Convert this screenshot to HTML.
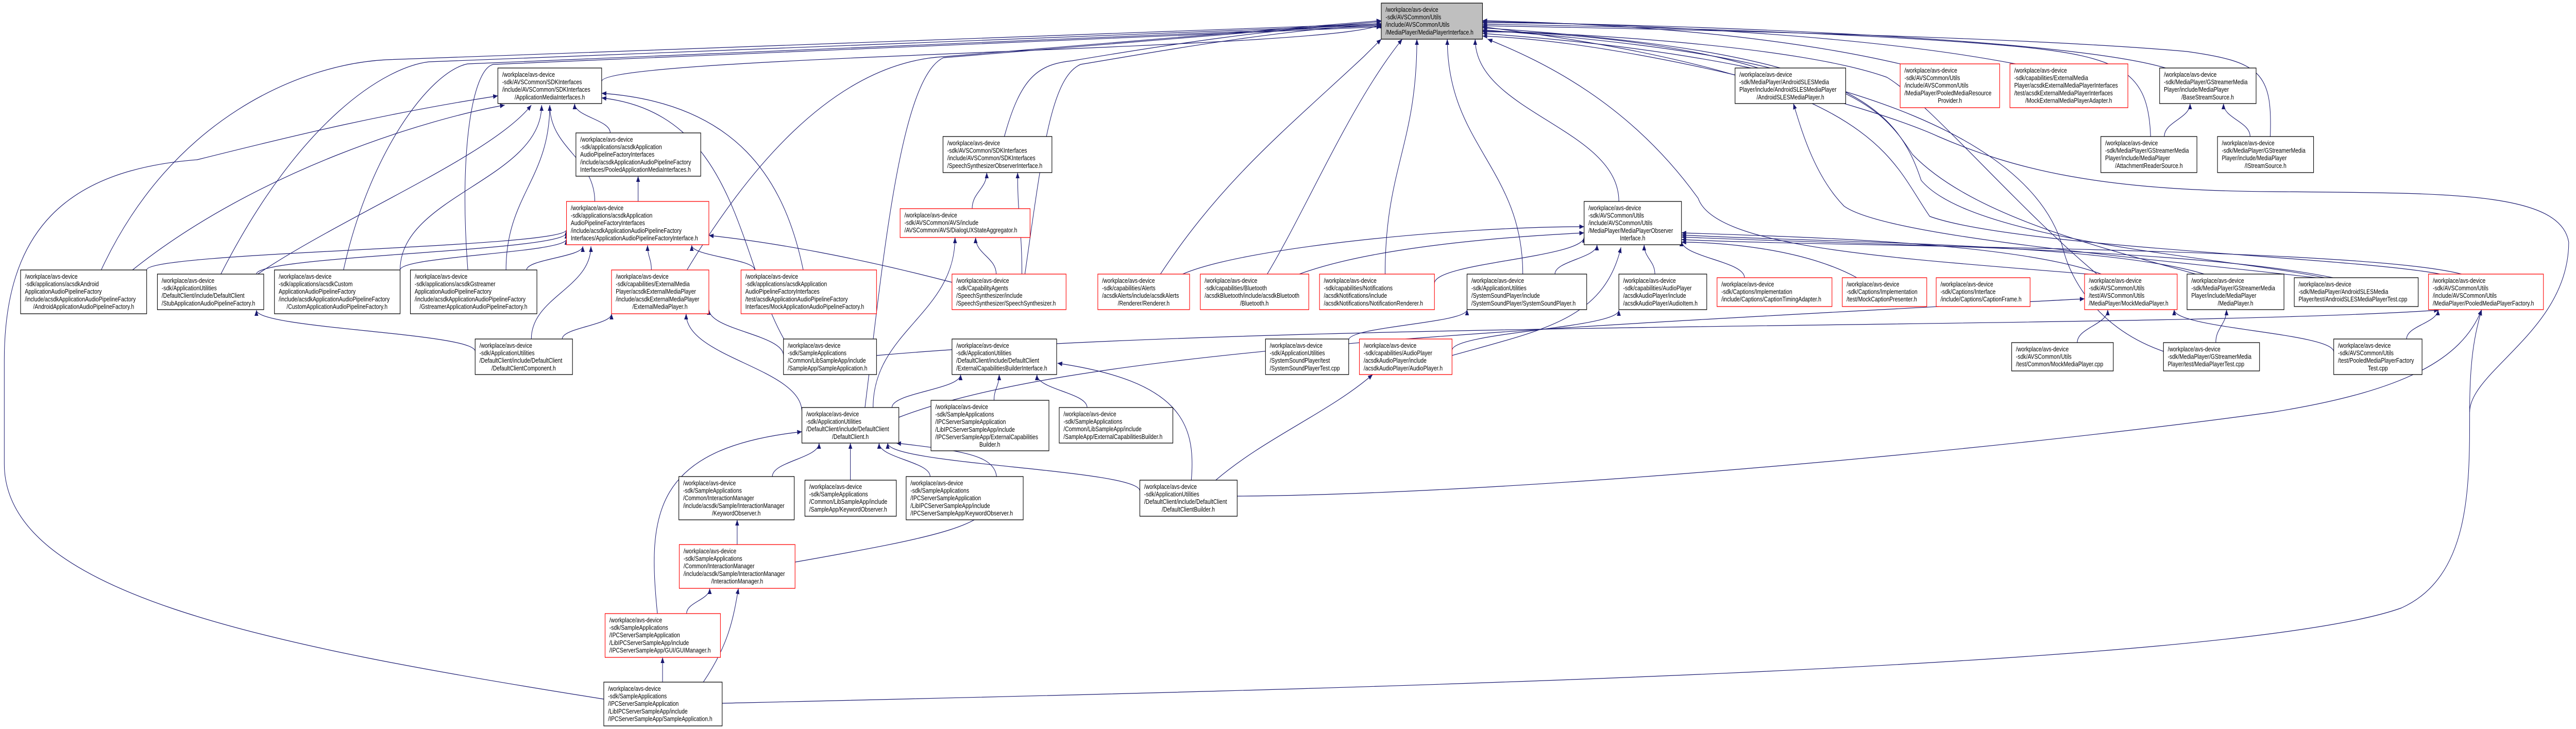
<!DOCTYPE html>
<html><head><meta charset="utf-8"><style>
html,body{margin:0;padding:0;background:#fff;width:100%;height:100%;overflow:hidden;}
svg{display:block;position:absolute;left:0;top:0;width:100vw;height:100vh;}
text{font-family:"Liberation Sans",Arial,sans-serif;font-size:12.5px;fill:#000;}
.n{fill:#fff;stroke:#000;stroke-width:1.3;}
.r{fill:#fff;stroke:#ff0000;stroke-width:1.3;}
.g{fill:#bfbfbf;stroke:#000;stroke-width:1.3;}
.e{fill:none;stroke:#191970;stroke-width:1.2;}
.c{text-anchor:middle;}
</style></head><body>
<svg id="s" viewBox="0 0 6007 1415" preserveAspectRatio="none" xmlns="http://www.w3.org/2000/svg">
<defs><marker id="a" markerUnits="userSpaceOnUse" markerWidth="12" markerHeight="9" refX="11" refY="4.5" orient="auto"><path d="M0,0 L11,4.5 L0,9 z" fill="#191970"/></marker></defs>
<g id="edges"></g>
<g id="nodes">
<rect class="g" x="3221" y="6" width="236" height="70"/>
<text x="3231" y="23">/workplace/avs-device</text><text x="3231" y="37.6">-sdk/AVSCommon/Utils</text><text x="3231" y="52.2">/include/AVSCommon/Utils</text><text x="3231" y="66.8">/MediaPlayer/MediaPlayerInterface.h</text>

<rect class="n" x="1161" y="132" width="242" height="69"/>
<text x="1171" y="149">/workplace/avs-device</text><text x="1171" y="163.6">-sdk/AVSCommon/SDKInterfaces</text><text x="1171" y="178.2">/include/AVSCommon/SDKInterfaces</text><text class="c" x="1282" y="192.8">/ApplicationMediaInterfaces.h</text>

<rect class="n" x="1343" y="258" width="291" height="84"/>
<text x="1353" y="275">/workplace/avs-device</text><text x="1353" y="289.6">-sdk/applications/acsdkApplication</text><text x="1353" y="304.2">AudioPipelineFactoryInterfaces</text><text x="1353" y="318.8">/include/acsdkApplicationAudioPipelineFactory</text><text x="1353" y="333.4">Interfaces/PooledApplicationMediaInterfaces.h</text>

<rect class="r" x="1321" y="391" width="332" height="84"/>
<text x="1331" y="408">/workplace/avs-device</text><text x="1331" y="422.6">-sdk/applications/acsdkApplication</text><text x="1331" y="437.2">AudioPipelineFactoryInterfaces</text><text x="1331" y="451.8">/include/acsdkApplicationAudioPipelineFactory</text><text x="1331" y="466.4">Interfaces/ApplicationAudioPipelineFactoryInterface.h</text>

<rect class="n" x="48" y="524" width="294" height="85"/>
<text x="58" y="541">/workplace/avs-device</text><text x="58" y="555.6">-sdk/applications/acsdkAndroid</text><text x="58" y="570.2">ApplicationAudioPipelineFactory</text><text x="58" y="584.8">/include/acsdkApplicationAudioPipelineFactory</text><text class="c" x="195" y="599.4">/AndroidApplicationAudioPipelineFactory.h</text>

<rect class="n" x="367" y="532" width="248" height="69"/>
<text x="377" y="549">/workplace/avs-device</text><text x="377" y="563.6">-sdk/ApplicationUtilities</text><text x="377" y="578.2">/DefaultClient/include/DefaultClient</text><text x="377" y="592.8">/StubApplicationAudioPipelineFactory.h</text>

<rect class="n" x="640" y="524" width="293" height="85"/>
<text x="650" y="541">/workplace/avs-device</text><text x="650" y="555.6">-sdk/applications/acsdkCustom</text><text x="650" y="570.2">ApplicationAudioPipelineFactory</text><text x="650" y="584.8">/include/acsdkApplicationAudioPipelineFactory</text><text class="c" x="786" y="599.4">/CustomApplicationAudioPipelineFactory.h</text>

<rect class="n" x="957" y="524" width="295" height="85"/>
<text x="967" y="541">/workplace/avs-device</text><text x="967" y="555.6">-sdk/applications/acsdkGstreamer</text><text x="967" y="570.2">ApplicationAudioPipelineFactory</text><text x="967" y="584.8">/include/acsdkApplicationAudioPipelineFactory</text><text class="c" x="1104" y="599.4">/GstreamerApplicationAudioPipelineFactory.h</text>

<rect class="n" x="1108" y="658" width="227" height="69"/>
<text x="1118" y="675">/workplace/avs-device</text><text x="1118" y="689.6">-sdk/ApplicationUtilities</text><text x="1118" y="704.2">/DefaultClient/include/DefaultClient</text><text class="c" x="1221" y="718.8">/DefaultClientComponent.h</text>

<rect class="r" x="1426" y="524" width="227" height="85"/>
<text x="1436" y="541">/workplace/avs-device</text><text x="1436" y="555.6">-sdk/capabilities/ExternalMedia</text><text x="1436" y="570.2">Player/acsdkExternalMediaPlayer</text><text x="1436" y="584.8">/include/acsdkExternalMediaPlayer</text><text class="c" x="1539" y="599.4">/ExternalMediaPlayer.h</text>

<rect class="n" x="2199" y="265" width="254" height="70"/>
<text x="2209" y="282">/workplace/avs-device</text><text x="2209" y="296.6">-sdk/AVSCommon/SDKInterfaces</text><text x="2209" y="311.2">/include/AVSCommon/SDKInterfaces</text><text x="2209" y="325.8">/SpeechSynthesizerObserverInterface.h</text>

<rect class="r" x="2099" y="405" width="303" height="56"/>
<text x="2109" y="422">/workplace/avs-device</text><text x="2109" y="436.6">-sdk/AVSCommon/AVS/include</text><text x="2109" y="451.2">/AVSCommon/AVS/DialogUXStateAggregator.h</text>

<rect class="r" x="1728" y="524" width="316" height="85"/>
<text x="1738" y="541">/workplace/avs-device</text><text x="1738" y="555.6">-sdk/applications/acsdkApplication</text><text x="1738" y="570.2">AudioPipelineFactoryInterfaces</text><text x="1738" y="584.8">/test/acsdkApplicationAudioPipelineFactory</text><text x="1738" y="599.4">Interfaces/MockApplicationAudioPipelineFactory.h</text>

<rect class="r" x="2220" y="532" width="266" height="69"/>
<text x="2230" y="549">/workplace/avs-device</text><text x="2230" y="563.6">-sdk/CapabilityAgents</text><text x="2230" y="578.2">/SpeechSynthesizer/include</text><text x="2230" y="592.8">/SpeechSynthesizer/SpeechSynthesizer.h</text>

<rect class="r" x="2560" y="532" width="214" height="69"/>
<text x="2570" y="549">/workplace/avs-device</text><text x="2570" y="563.6">-sdk/capabilities/Alerts</text><text x="2570" y="578.2">/acsdkAlerts/include/acsdkAlerts</text><text class="c" x="2667" y="592.8">/Renderer/Renderer.h</text>

<rect class="r" x="2799" y="532" width="253" height="69"/>
<text x="2809" y="549">/workplace/avs-device</text><text x="2809" y="563.6">-sdk/capabilities/Bluetooth</text><text x="2809" y="578.2">/acsdkBluetooth/include/acsdkBluetooth</text><text class="c" x="2925" y="592.8">/Bluetooth.h</text>

<rect class="n" x="1827" y="658" width="217" height="69"/>
<text x="1837" y="675">/workplace/avs-device</text><text x="1837" y="689.6">-sdk/SampleApplications</text><text x="1837" y="704.2">/Common/LibSampleApp/include</text><text x="1837" y="718.8">/SampleApp/SampleApplication.h</text>

<rect class="n" x="2220" y="658" width="244" height="69"/>
<text x="2230" y="675">/workplace/avs-device</text><text x="2230" y="689.6">-sdk/ApplicationUtilities</text><text x="2230" y="704.2">/DefaultClient/include/DefaultClient</text><text x="2230" y="718.8">/ExternalCapabilitiesBuilderInterface.h</text>

<rect class="n" x="2951" y="658" width="194" height="69"/>
<text x="2961" y="675">/workplace/avs-device</text><text x="2961" y="689.6">-sdk/ApplicationUtilities</text><text x="2961" y="704.2">/SystemSoundPlayer/test</text><text x="2961" y="718.8">/SystemSoundPlayerTest.cpp</text>

<rect class="n" x="4046" y="132" width="258" height="69"/>
<text x="4056" y="149">/workplace/avs-device</text><text x="4056" y="163.6">-sdk/MediaPlayer/AndroidSLESMedia</text><text x="4056" y="178.2">Player/include/AndroidSLESMediaPlayer</text><text class="c" x="4175" y="192.8">/AndroidSLESMediaPlayer.h</text>

<rect class="r" x="4431" y="124" width="232" height="85"/>
<text x="4441" y="141">/workplace/avs-device</text><text x="4441" y="155.6">-sdk/AVSCommon/Utils</text><text x="4441" y="170.2">/include/AVSCommon/Utils</text><text x="4441" y="184.8">/MediaPlayer/PooledMediaResource</text><text class="c" x="4547" y="199.4">Provider.h</text>

<rect class="n" x="3694" y="391" width="227" height="84"/>
<text x="3704" y="408">/workplace/avs-device</text><text x="3704" y="422.6">-sdk/AVSCommon/Utils</text><text x="3704" y="437.2">/include/AVSCommon/Utils</text><text x="3704" y="451.8">/MediaPlayer/MediaPlayerObserver</text><text class="c" x="3807" y="466.4">Interface.h</text>

<rect class="r" x="3077" y="532" width="268" height="69"/>
<text x="3087" y="549">/workplace/avs-device</text><text x="3087" y="563.6">-sdk/capabilities/Notifications</text><text x="3087" y="578.2">/acsdkNotifications/include</text><text x="3087" y="592.8">/acsdkNotifications/NotificationRenderer.h</text>

<rect class="n" x="3421" y="532" width="279" height="69"/>
<text x="3431" y="549">/workplace/avs-device</text><text x="3431" y="563.6">-sdk/ApplicationUtilities</text><text x="3431" y="578.2">/SystemSoundPlayer/include</text><text x="3431" y="592.8">/SystemSoundPlayer/SystemSoundPlayer.h</text>

<rect class="n" x="3775" y="532" width="205" height="69"/>
<text x="3785" y="549">/workplace/avs-device</text><text x="3785" y="563.6">-sdk/capabilities/AudioPlayer</text><text x="3785" y="578.2">/acsdkAudioPlayer/include</text><text x="3785" y="592.8">/acsdkAudioPlayer/AudioItem.h</text>

<rect class="r" x="4004" y="539" width="268" height="56"/>
<text x="4014" y="556">/workplace/avs-device</text><text x="4014" y="570.6">-sdk/Captions/Implementation</text><text x="4014" y="585.2">/include/Captions/CaptionTimingAdapter.h</text>

<rect class="r" x="4296" y="539" width="197" height="56"/>
<text x="4306" y="556">/workplace/avs-device</text><text x="4306" y="570.6">-sdk/Captions/Implementation</text><text x="4306" y="585.2">/test/MockCaptionPresenter.h</text>

<rect class="r" x="3170" y="658" width="216" height="69"/>
<text x="3180" y="675">/workplace/avs-device</text><text x="3180" y="689.6">-sdk/capabilities/AudioPlayer</text><text x="3180" y="704.2">/acsdkAudioPlayer/include</text><text x="3180" y="718.8">/acsdkAudioPlayer/AudioPlayer.h</text>

<rect class="r" x="4687" y="124" width="275" height="85"/>
<text x="4697" y="141">/workplace/avs-device</text><text x="4697" y="155.6">-sdk/capabilities/ExternalMedia</text><text x="4697" y="170.2">Player/acsdkExternalMediaPlayerInterfaces</text><text x="4697" y="184.8">/test/acsdkExternalMediaPlayerInterfaces</text><text class="c" x="4824" y="199.4">/MockExternalMediaPlayerAdapter.h</text>

<rect class="n" x="5036" y="132" width="225" height="69"/>
<text x="5046" y="149">/workplace/avs-device</text><text x="5046" y="163.6">-sdk/MediaPlayer/GStreamerMedia</text><text x="5046" y="178.2">Player/include/MediaPlayer</text><text class="c" x="5148" y="192.8">/BaseStreamSource.h</text>

<rect class="n" x="4899" y="265" width="224" height="70"/>
<text x="4909" y="282">/workplace/avs-device</text><text x="4909" y="296.6">-sdk/MediaPlayer/GStreamerMedia</text><text x="4909" y="311.2">Player/include/MediaPlayer</text><text class="c" x="5011" y="325.8">/AttachmentReaderSource.h</text>

<rect class="n" x="5171" y="265" width="224" height="70"/>
<text x="5181" y="282">/workplace/avs-device</text><text x="5181" y="296.6">-sdk/MediaPlayer/GStreamerMedia</text><text x="5181" y="311.2">Player/include/MediaPlayer</text><text class="c" x="5283" y="325.8">/IStreamSource.h</text>

<rect class="r" x="4515" y="539" width="219" height="56"/>
<text x="4525" y="556">/workplace/avs-device</text><text x="4525" y="570.6">-sdk/Captions/Interface</text><text x="4525" y="585.2">/include/Captions/CaptionFrame.h</text>

<rect class="r" x="4861" y="532" width="216" height="69"/>
<text x="4871" y="549">/workplace/avs-device</text><text x="4871" y="563.6">-sdk/AVSCommon/Utils</text><text x="4871" y="578.2">/test/AVSCommon/Utils</text><text x="4871" y="592.8">/MediaPlayer/MockMediaPlayer.h</text>

<rect class="n" x="5100" y="532" width="226" height="69"/>
<text x="5110" y="549">/workplace/avs-device</text><text x="5110" y="563.6">-sdk/MediaPlayer/GStreamerMedia</text><text x="5110" y="578.2">Player/include/MediaPlayer</text><text class="c" x="5213" y="592.8">/MediaPlayer.h</text>

<rect class="n" x="5350" y="539" width="289" height="56"/>
<text x="5360" y="556">/workplace/avs-device</text><text x="5360" y="570.6">-sdk/MediaPlayer/AndroidSLESMedia</text><text x="5360" y="585.2">Player/test/AndroidSLESMediaPlayerTest.cpp</text>

<rect class="r" x="5663" y="532" width="268" height="69"/>
<text x="5673" y="549">/workplace/avs-device</text><text x="5673" y="563.6">-sdk/AVSCommon/Utils</text><text x="5673" y="578.2">/include/AVSCommon/Utils</text><text x="5673" y="592.8">/MediaPlayer/PooledMediaPlayerFactory.h</text>

<rect class="n" x="4691" y="665" width="237" height="55"/>
<text x="4701" y="682">/workplace/avs-device</text><text x="4701" y="696.6">-sdk/AVSCommon/Utils</text><text x="4701" y="711.2">/test/Common/MockMediaPlayer.cpp</text>

<rect class="n" x="5045" y="665" width="224" height="55"/>
<text x="5055" y="682">/workplace/avs-device</text><text x="5055" y="696.6">-sdk/MediaPlayer/GStreamerMedia</text><text x="5055" y="711.2">Player/test/MediaPlayerTest.cpp</text>

<rect class="n" x="5442" y="658" width="206" height="69"/>
<text x="5452" y="675">/workplace/avs-device</text><text x="5452" y="689.6">-sdk/AVSCommon/Utils</text><text x="5452" y="704.2">/test/PooledMediaPlayerFactory</text><text class="c" x="5545" y="718.8">Test.cpp</text>

<rect class="n" x="1870" y="791" width="226" height="69"/>
<text x="1880" y="808">/workplace/avs-device</text><text x="1880" y="822.6">-sdk/ApplicationUtilities</text><text x="1880" y="837.2">/DefaultClient/include/DefaultClient</text><text class="c" x="1983" y="851.8">/DefaultClient.h</text>

<rect class="n" x="2171" y="777" width="275" height="98"/>
<text x="2181" y="794">/workplace/avs-device</text><text x="2181" y="808.6">-sdk/SampleApplications</text><text x="2181" y="823.2">/IPCServerSampleApplication</text><text x="2181" y="837.8">/LibIPCServerSampleApp/include</text><text x="2181" y="852.4">/IPCServerSampleApp/ExternalCapabilities</text><text class="c" x="2308" y="867">Builder.h</text>

<rect class="n" x="2470" y="791" width="265" height="69"/>
<text x="2480" y="808">/workplace/avs-device</text><text x="2480" y="822.6">-sdk/SampleApplications</text><text x="2480" y="837.2">/Common/LibSampleApp/include</text><text x="2480" y="851.8">/SampleApp/ExternalCapabilitiesBuilder.h</text>

<rect class="n" x="1583" y="925" width="269" height="84"/>
<text x="1593" y="942">/workplace/avs-device</text><text x="1593" y="956.6">-sdk/SampleApplications</text><text x="1593" y="971.2">/Common/InteractionManager</text><text x="1593" y="985.8">/include/acsdk/Sample/InteractionManager</text><text class="c" x="1717" y="1000.4">/KeywordObserver.h</text>

<rect class="n" x="1877" y="932" width="213" height="70"/>
<text x="1887" y="949">/workplace/avs-device</text><text x="1887" y="963.6">-sdk/SampleApplications</text><text x="1887" y="978.2">/Common/LibSampleApp/include</text><text x="1887" y="992.8">/SampleApp/KeywordObserver.h</text>

<rect class="n" x="2113" y="925" width="273" height="84"/>
<text x="2123" y="942">/workplace/avs-device</text><text x="2123" y="956.6">-sdk/SampleApplications</text><text x="2123" y="971.2">/IPCServerSampleApplication</text><text x="2123" y="985.8">/LibIPCServerSampleApp/include</text><text x="2123" y="1000.4">/IPCServerSampleApp/KeywordObserver.h</text>

<rect class="n" x="2658" y="932" width="227" height="70"/>
<text x="2668" y="949">/workplace/avs-device</text><text x="2668" y="963.6">-sdk/ApplicationUtilities</text><text x="2668" y="978.2">/DefaultClient/include/DefaultClient</text><text class="c" x="2771" y="992.8">/DefaultClientBuilder.h</text>

<rect class="r" x="1584" y="1057" width="270" height="85"/>
<text x="1594" y="1074">/workplace/avs-device</text><text x="1594" y="1088.6">-sdk/SampleApplications</text><text x="1594" y="1103.2">/Common/InteractionManager</text><text x="1594" y="1117.8">/include/acsdk/Sample/InteractionManager</text><text class="c" x="1719" y="1132.4">/InteractionManager.h</text>

<rect class="r" x="1411" y="1191" width="269" height="85"/>
<text x="1421" y="1208">/workplace/avs-device</text><text x="1421" y="1222.6">-sdk/SampleApplications</text><text x="1421" y="1237.2">/IPCServerSampleApplication</text><text x="1421" y="1251.8">/LibIPCServerSampleApp/include</text><text x="1421" y="1266.4">/IPCServerSampleApp/GUI/GUIManager.h</text>

<rect class="n" x="1408" y="1324" width="276" height="85"/>
<text x="1418" y="1341">/workplace/avs-device</text><text x="1418" y="1355.6">-sdk/SampleApplications</text><text x="1418" y="1370.2">/IPCServerSampleApplication</text><text x="1418" y="1384.8">/LibIPCServerSampleApp/include</text><text x="1418" y="1399.4">/IPCServerSampleApp/SampleApplication.h</text>
</g>
</svg>
<script>
var E=[
[1403,158,3221,44],
"M236,524 C400,230 700,125 900,116 L3221,46",
"M309,524 C600,330 1000,230 1177,204",
"M515,532 C700,230 900,130 1000,120 L3221,48",
"M601,532 C800,420 1150,300 1239,204",
"M801,524 C860,300 1000,140 1090,124 L3221,50",
[933,524,1263,204],[1180,524,1282,204],
"M1091,524 C1070,300 1100,135 1150,125 L3221,52",
[342,524,1321,446],[598,532,1321,452],[933,524,1321,464],[1228,524,1359,478],
[1239,658,1378,478],[1108,682,598,602],[1311,658,1426,609],[1519,524,1510,476],
[1387,391,1282,204],[1423,258,1340,201],[1488,391,1488,342],
"M1408,1357 C600,1250 10,1150 10,900 L10,700 C10,450 150,330 460,310 C700,260 900,220 1161,186",
"M1873,524 C1830,350 1720,200 1403,181",
"M1828,658 C1720,500 1720,220 1403,190",
[1760,524,1613,476],
"M1602,524 C1800,250 2000,120 2200,110 L3221,40",
[1827,690,1653,600],[1870,800,1600,609],
"M2017,791 C2060,500 2100,150 2200,112 L3221,42",
[2036,791,2227,461],
"M2220,548 C2000,500 1800,470 1653,457",
"M2342,265 C2380,150 2420,125 2500,118 C2700,90 3000,50 3221,46",
[2383,532,2373,335],[2267,405,2301,335],[2323,532,2275,461],
"M2390,532 C2430,300 2450,150 2520,125 C2700,100 3000,55 3221,48",
"M2706,532 C2850,350 3000,250 3180,110 L3221,76",
"M2955,532 C3050,400 3150,200 3270,76",
"M2758,532 C2900,480 3400,440 3694,440",
"M3030,532 C3200,480 3500,460 3694,452",
[3230,532,3304,76],[3345,550,3694,460],[3551,532,3375,76],[3626,532,3724,475],
[3859,532,3834,475],[3775,391,3440,76],[4068,539,3921,467],
"M4330,539 C4200,480 4000,470 3921,470",
"M4870,532 C4400,500 4000,480 3960,385 C3800,200 3600,120 3469,76",
"M4100,132 C3900,80 3600,60 3457,62",
"M4431,124 C4100,60 3700,45 3457,40",
"M4700,124 C4300,60 3700,45 3457,42",
"M5050,132 C4800,70 3800,45 3457,44",
"M5015,265 C5010,140 4950,110 4700,90 C4300,60 3700,50 3457,47",
"M5294,265 C5300,140 5270,120 5100,100 C4700,70 3800,55 3457,50",
[5047,265,5107,201],[5247,265,5185,201],
"M5400,539 C5000,500 4400,460 4300,400 C4230,340 4200,250 4182,201",
"M4890,532 C4700,400 4500,200 4400,150 C4200,90 3700,65 3457,60",
"M5120,532 C4900,480 4600,420 4460,300 C4380,200 4300,110 3457,58",
"M5690,532 C5500,500 4700,480 4500,420 C4400,300 4380,150 3457,52",
"M5420,539 C5200,500 4600,470 4480,350 C4420,200 4300,100 3457,54",
"M4900,532 C4700,470 4200,460 3921,452",
"M5140,532 C4900,470 4200,470 3921,456",
"M5440,539 C5100,480 4300,475 3921,460",
"M5740,532 C5500,480 4300,480 3921,465",
[4844,665,4915,601],[5167,665,5192,601],
"M5045,682 C4900,640 4830,550 4810,480 C4750,300 4400,120 3457,65",
[5612,658,5685,601],[5442,683,5070,601],
"M1684,1365 C3000,1340 5200,1300 5600,1180 C5759,1120 5759,950 5759,800 C5759,700 5770,650 5787,601",
"M2885,963 C3500,960 4600,880 5300,800 C5600,760 5740,700 5787,601",
"M5759,800 C5759,720 5990,640 5990,470 C5970,370 5700,375 5300,372 C4900,370 4700,330 4520,265 C4350,200 3800,80 3457,70",
[2080,791,2240,727],[2318,777,2330,727],[2535,791,2418,727],
"M2778,932 C2790,820 2750,740 2466,705",
"M2835,932 C2950,850 3100,800 3201,727",
[3386,680,3775,602],
"M3386,690 C3600,640 3740,620 3780,480",
[3145,660,3421,601],
[1801,925,1910,860],[1983,932,1983,860],[2169,925,2050,860],[2658,953,2070,860],
[1719,1057,1719,1009],
"M1854,1091 C2200,1040 2310,1020 2320,960 C2340,890 2300,880 2090,860",
"M1533,1191 C1510,1000 1520,870 1870,838",
[1601,1191,1655,1142],[1545,1324,1545,1276],
"M1640,1324 C1700,1250 1710,1200 1722,1142",
"M2096,810 C2500,680 3500,640 4861,580",
"M2044,690 C3000,620 5000,640 5687,602"
];
var g=document.getElementById('edges'),h='';
E.forEach(function(e){var d;
if(typeof e==='string')d=e;else{var x1=e[0],y1=e[1],x2=e[2],y2=e[3],k=(y1-y2)*0.45;
d='M'+x1+','+y1+' C'+x1+','+(y1-k)+' '+x2+','+(y2+k)+' '+x2+','+y2;}
h+='<path class="e" d="'+d+'" marker-end="url(#a)"/>';});
g.innerHTML=h;
</script>
</body></html>
